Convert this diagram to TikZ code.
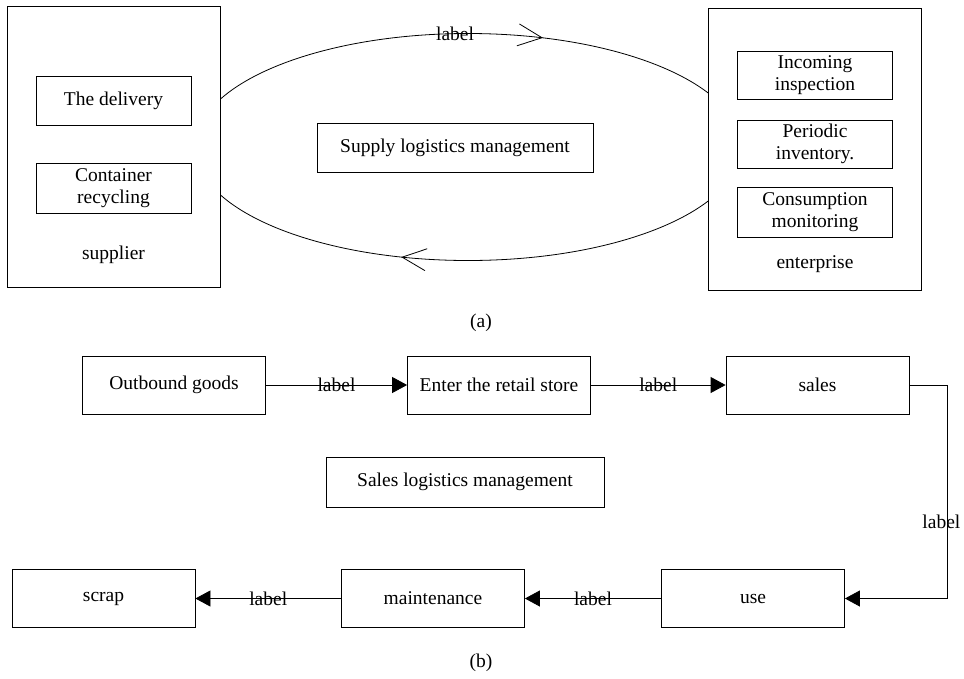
\documentclass[tikz,border=0pt]{standalone}
\usepackage{fontspec}
\setmainfont{Liberation Serif}
\usetikzlibrary{arrows.meta,decorations.markings}
\begin{document}
\begin{tikzpicture}[x=1pt, y=-1pt, line width=0.8pt,
	every node/.style={font=\fontsize{19.5}{21.5}\selectfont},
	blk/.style={draw, fill=white, align=center, inner sep=0pt, minimum width=#1, minimum height=49pt},
	blk/.default=155pt,
	wide/.style={blk=183pt, minimum height=58pt},
	big/.style={draw, fill=white, inner sep=0pt, minimum width=213pt, minimum height=281pt},
	lbl/.style={inner sep=0pt},
	flow/.style={-{Triangle[length=15pt, width=16pt]}},
	barb/.tip={Straight Barb[length=24pt, width=22pt]}]
	\useasboundingbox (0,0) rectangle (964,678);
	% (a) supply logistics
	\draw[postaction={decorate}, decoration={markings,
			mark=at position 0.3028 with {\arrow{barb}},
			mark=at position 0.8093 with {\arrow{barb}},
			mark=at position 0.7398 with {\node[lbl] (toplabel) {label};},
			mark=at position 0.2453 with {\node[lbl, yshift=-2.5pt] (botlabel) {label};}}]
		(468,147) ellipse [x radius=273, y radius=113.5];
	\node [big] (supplier) at (113.5,146.5) {};
	\node (supname) at (113.5,255) {supplier};
	\node [blk] (delivery) at (113.5,101) {The delivery};
	\node [blk, minimum height=50pt] (recycle) at (113.5,188) {Container\\recycling};
	\node [big, minimum height=282pt] (enterprise) at (814.5,149) {};
	\node (entname) at (815,264) {enterprise};
	\node [blk, minimum height=48pt] (inspect) at (815,75) {Incoming\\inspection};
	\node [blk, minimum height=48pt] (inventory) at (815,144) {Periodic\\inventory.};
	\node [blk, minimum height=50pt] (monitor) at (815,212) {Consumption\\monitoring};
	\node [blk=276pt] (supply) at (455,147.5) {Supply logistics management};
	\node (capa) at (481,323) {(a)};
	% (b) sales logistics
	\node [wide] (outbound) at (174,385) {Outbound goods};
	\node [wide] (enter) at (499,385) {Enter the retail store};
	\node [wide] (sales) at (817.5,385) {sales};
	\node [blk=278pt, minimum height=50pt] (salesmgmt) at (465,482) {Sales logistics management};
	\node [wide] (scrap) at (103.5,598.5) {scrap};
	\node [wide] (maint) at (433,598.5) {maintenance};
	\node [wide] (use) at (753,598.5) {use};
	\draw[flow] (outbound) -- node[lbl] {label} (enter);
	\draw[flow] (enter) -- node[lbl] {label} (sales);
	\draw[flow] (sales.east) -- ++(38,0) |- node[lbl, pos=0.32, xshift=-6pt] {label} (use.east);
	\draw[flow] (use) -- node[lbl] {label} (maint);
	\draw[flow] (maint) -- node[lbl] {label} (scrap);
	\node (capb) at (481,663) {(b)};
\end{tikzpicture}
\end{document}
